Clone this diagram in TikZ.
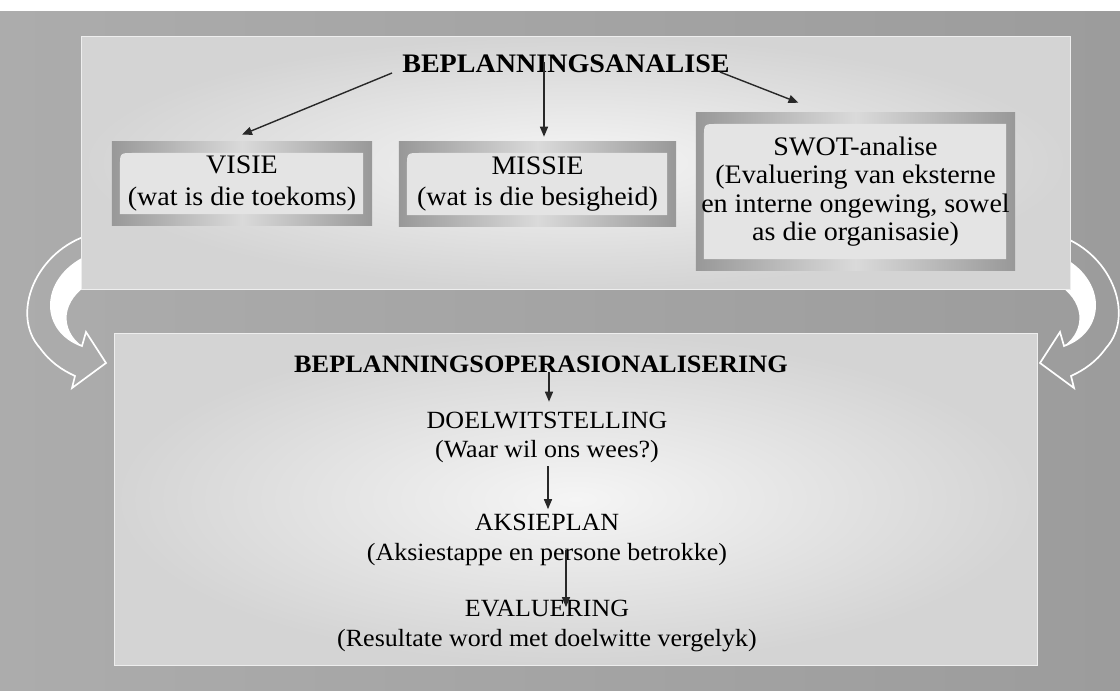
\documentclass[tikz,border=0pt]{standalone}
\usepackage{fontspec}
\setmainfont{Liberation Serif}[FakeStretch=1.05]
\usepackage{tikz}
\usetikzlibrary{calc,arrows.meta}
\definecolor{bgleft}{RGB}{172,172,172}
\definecolor{bgmid}{RGB}{200,200,200}
\definecolor{bgright}{RGB}{156,156,156}
\definecolor{panelin}{RGB}{245,245,245}
\definecolor{panelout}{RGB}{212,212,212}
\definecolor{framedark}{RGB}{152,152,152}
\definecolor{framelight}{RGB}{218,218,218}
\definecolor{boxfill}{RGB}{228,228,228}
\definecolor{arrowgray}{RGB}{40,40,40}
\tikzset{
    panel/.style = {shading=radial, inner color=panelin, outer color=panelout, draw=white!60!panelout, line width=0.6pt},
    infobox/.style = {rectangle, align=center, inner sep=0pt, font=\fontsize{19}{22.7}\selectfont, left color=framedark, right color=framedark, middle color=framelight,
        path picture={\fill[boxfill] ($(path picture bounding box.south west)+(8,-11)$) -- ($(path picture bounding box.north west)+(8,24)$) .. controls ($(path picture bounding box.north west)+(8,11)$) .. ($(path picture bounding box.north west)+(21,11)$) -- ($(path picture bounding box.north east)+(-9,11)$) -- ($(path picture bounding box.south east)+(-9,-11)$) -- cycle;}},
    heading/.style = {anchor=base, inner sep=0pt, font=\bfseries\fontsize{19}{22}\selectfont},
    subheading/.style = {anchor=base, inner sep=0pt, font=\bfseries\fontsize{17.8}{22}\selectfont},
    stage/.style = {align=center, inner sep=0pt, font=\fontsize{17.6}{20.9}\selectfont},
    arrow/.style = {line width=1pt, ->, >={Triangle[length=0.25cm, width=0.2cm]}, draw=arrowgray},
    sidearrow/.style = {draw=white, line width=1.2pt, line join=miter},
    curl/.pic = {
        \draw [sidearrow] (92,234) .. controls (35,250) and (10,315) .. (40,348) .. controls (50,362) and (62,370) .. (75,376) -- (72,388) -- (106,363) -- (86,332) -- (82,346) .. controls (38,330) and (40,275) .. (92,254);
        \fill [white] (92,254) .. controls (40,275) and (38,330) .. (82,346) .. controls (60,330) and (60,300) .. (92,282) -- cycle;
    }
}
\begin{document}
\begin{tikzpicture}[x=0.025cm, y=-0.025cm]
\useasboundingbox (0,0) rectangle (1120,691);
\fill [white] (0,0) rectangle (1120,11);
\shade [left color=bgleft, middle color=bgmid, right color=bgright] (0,11) rectangle (1120,691);

\pic at (0,0) {curl};
\pic [xscale=-1] at (1146,0) {curl};

\path [panel] (81,36) rectangle (1070,289);
\path [panel] (114,333) rectangle (1037,665);

\node (analise) [heading] at (566,72) {BEPLANNINGSANALISE};
\node (visie) [infobox, minimum width=6.5cm, minimum height=2.075cm] at (242,183.5) {VISIE\\(wat is die toekoms)};
\node (missie) [infobox, minimum width=6.925cm, minimum height=2.1cm] at (537.5,184) {MISSIE\\(wat is die besigheid)};
\node (swot) [infobox, minimum width=7.975cm, minimum height=3.925cm, font=\fontsize{19}{20.3}\selectfont] at (855.5,191.5) {SWOT-analise\\(Evaluering van eksterne\\en interne ongewing, sowel\\as die organisasie)};

\node (operasie) [subheading] at (541,372) {BEPLANNINGSOPERASIONALISERING};
\node (doel) [stage] at (547,437.5) {DOELWITSTELLING\\(Waar wil ons wees?)};
\node (aksie) [stage] at (547,540) {AKSIEPLAN\\(Aksiestappe en persone betrokke)};
\node (eval) [stage] at (547,626) {EVALUERING\\(Resultate word met doelwitte vergelyk)};

\coordinate (a1) at ($(analise.base west)+(-10,1)$);
\coordinate (a2) at ($(analise.base)+(-22,-10)$);
\coordinate (a3) at ($(analise.base east)+(-10,0)$);
\draw [arrow] (a1) -- ($(visie.north)+(0,-7)$);
\draw [arrow] (a2) -- ($(a2 |- missie.north)+(0,-5)$);
\draw [arrow] (a3) -- ($(swot.north)+(-57,-10)$);

\coordinate (b1) at ($(operasie.base)+(8,0)$);
\coordinate (b3) at ($(aksie.south)+(19,-16)$);
\draw [arrow] (b1) -- ($(b1 |- doel.north)+(0,-10)$);
\draw [arrow] ($(doel.south)+(1,3)$) -- ($(doel.south |- aksie.north)+(1,-5)$);
\draw [arrow] (b3) -- ($(b3 |- eval.north)+(0,7)$);
\end{tikzpicture}
\end{document}
